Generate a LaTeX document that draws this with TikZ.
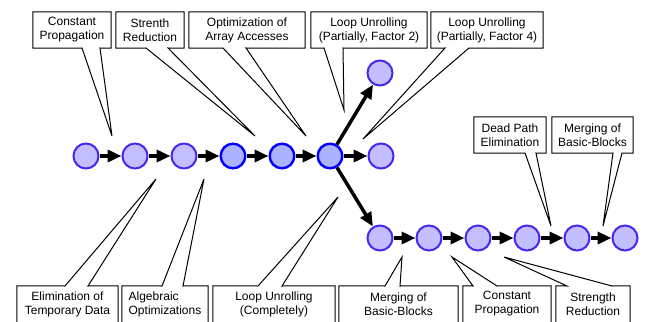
\documentclass[tikz,border=0pt]{standalone}
\usepackage{fontspec}
\setmainfont{Liberation Sans}
\usetikzlibrary{arrows.meta}
\definecolor{lavfill}{RGB}{194,190,255}
\definecolor{lavdraw}{RGB}{72,40,240}
\definecolor{blufill}{RGB}{172,178,255}
\definecolor{bludraw}{RGB}{0,0,255}
\begin{document}
\begin{tikzpicture}[x=1pt,y=-1pt,
  cir/.style={circle,minimum size=25pt,inner sep=0pt,line width=2pt,draw=lavdraw,fill=lavfill},
  bcir/.style={cir,draw=bludraw,fill=blufill,line width=2.4pt,minimum size=24.6pt},
  flow/.style={line width=3.5pt,-{Triangle[length=14pt,width=12pt]}},
  lbl/.style={inner sep=0pt,minimum height=36pt,align=center,font=\fontsize{12}{14}\selectfont},
  co/.style={line width=1pt}
]
\useasboundingbox (0,0) rectangle (650,321);
\clip (0,0) rectangle (650,321);

% circles
\node[cir]  (c1) at (86,156) {};
\node[cir]  (c2) at (135,156) {};
\node[cir]  (c3) at (184,156) {};
\node[bcir] (c4) at (233,156) {};
\node[bcir] (c5) at (282,156) {};
\node[bcir] (c6) at (330,156) {};
\node[cir]  (c7) at (380,73) {};
\node[cir]  (c8) at (381,156) {};
\node[cir]  (e1) at (380,238) {};
\node[cir]  (e2) at (429,238) {};
\node[cir]  (e3) at (478,238) {};
\node[cir]  (e4) at (527,238) {};
\node[cir]  (e5) at (577,238) {};
\node[cir]  (e6) at (625,238) {};

% arrows
\draw[flow] (c1) -- (c2);
\draw[flow] (c2) -- (c3);
\draw[flow] (c3) -- (c4);
\draw[flow] (c4) -- (c5);
\draw[flow] (c5) -- (c6);
\draw[flow] (c6) -- (c7);
\draw[flow] (c6) -- (c8);
\draw[flow] (c6) -- (e1);
\draw[flow] (e1) -- (e2);
\draw[flow] (e2) -- (e3);
\draw[flow] (e3) -- (e4);
\draw[flow] (e4) -- (e5);
\draw[flow] (e5) -- (e6);

% callout tips
\coordinate (p1) at (112,136);
\coordinate (p2) at (255,136);
\coordinate (p3) at (306,136);
\coordinate (p4) at (344,110);
\coordinate (p5) at (363,139);
\coordinate (p6) at (551,226);
\coordinate (p7) at (603,226);
\coordinate (q1) at (156,179);
\coordinate (q2) at (204,179);
\coordinate (q3) at (338,197);
\coordinate (q4) at (402,257);
\coordinate (q5) at (452,257);
\coordinate (q6) at (504,257);

% top labels
\node[lbl,minimum width=78pt]  (t1) at (72,30)  {Constant\\Propagation};
\node[lbl,minimum width=68pt]  (t2) at (150,30) {Strenth\\Reduction};
\node[lbl,minimum width=116pt] (t3) at (247,30) {Optimization of\\Array Accesses};
\node[lbl,minimum width=116pt] (t4) at (369,30) {Loop Unrolling\\(Partially, Factor 2)};
\node[lbl,minimum width=112pt] (t5) at (487,30) {Loop Unrolling\\(Partially, Factor 4)};
\node[lbl,minimum width=72pt]  (d1) at (510,135) {Dead Path\\Elimination};
\node[lbl,minimum width=81pt]  (d2) at (592.5,135) {Merging of\\Basic-Blocks};

\draw[co] (t1.south west) -- (t1.north west) -- (t1.north east) -- (t1.south east) -- (100,48) -- (p1) -- (82,48) -- cycle;
\draw[co] (t2.south west) -- (t2.north west) -- (t2.north east) -- (t2.south east) -- (168,48) -- (p2) -- (146,48) -- cycle;
\draw[co] (t3.south west) -- (t3.north west) -- (t3.north east) -- (t3.south east) -- (246,48) -- (p3) -- (223,48) -- cycle;
\draw[co] (t4.south west) -- (t4.north west) -- (t4.north east) -- (t4.south east) -- (343,48) -- (p4) -- (324,48) -- cycle;
\draw[co] (t5.south west) -- (t5.north west) -- (t5.north east) -- (t5.south east) -- (469,48) -- (p5) -- (445,48) -- cycle;
\draw[co] (d1.south west) -- (d1.north west) -- (d1.north east) -- (d1.south east) -- (536,153) -- (p6) -- (525,153) -- cycle;
\draw[co] (d2.south west) -- (d2.north west) -- (d2.north east) -- (d2.south east) -- (622,153) -- (p7) -- (613,153) -- cycle;

% bottom labels
\node[lbl,minimum width=101pt] (b1) at (67.5,304) {Elimination of\\Temporary Data};
\node[lbl,minimum width=86pt,align=left] (b2) at (165,304) {Algebraic\\Optimizations};
\node[lbl,minimum width=122pt] (b3) at (274,304) {Loop Unrolling\\(Completely)};
\node[lbl,minimum width=119pt] (b4) at (398.5,304) {Merging of\\Basic-Blocks};
\node[lbl,minimum width=88pt]  (b5) at (507,304) {Constant\\Propagation};
\node[lbl,minimum width=74pt]  (b6) at (593,304) {Strength\\Reduction};

\draw[co] (b1.south west) -- (b1.north west) -- (65,286) -- (q1) -- (88,286) -- (b1.north east) -- (b1.south east);
\draw[co] (b2.south west) -- (b2.north west) -- (162,286) -- (q2) -- (183,286) -- (b2.north east) -- (b2.south east);
\draw[co] (b3.south west) -- (b3.north west) -- (258,286) -- (q3) -- (282,286) -- (b3.north east) -- (b3.south east);
\draw[co] (b4.south west) -- (b4.north west) -- (385,286) -- (q4) -- (400,286) -- (b4.north east) -- (b4.south east);
\draw[co] (b5.south west) -- (b5.north west) -- (473,286) -- (q5) -- (497,286) -- (b5.north east) -- (b5.south east);
\draw[co] (b6.south west) -- (b6.north west) -- (567,286) -- (q6) -- (612,286) -- (b6.north east) -- (b6.south east);
\end{tikzpicture}
\end{document}
